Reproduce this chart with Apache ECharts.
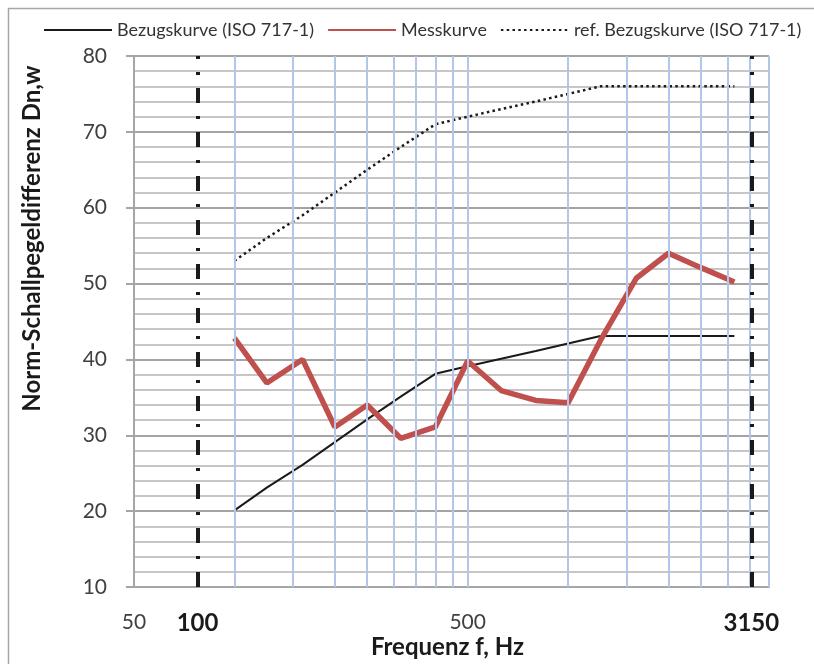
<!DOCTYPE html>
<html>
<head>
<meta charset="utf-8">
<script src="https://cdn.jsdelivr.net/npm/echarts@6/dist/echarts.min.js"></script>
<style>
  html, body { margin: 0; padding: 0; background: #fff; }
  #chart { width: 814px; height: 664px; }
</style>
</head>
<body>
<div id="chart"></div>
<script>
// Third-octave band centre frequencies, Hz
const freqs = [100, 125, 160, 200, 250, 315, 400, 500, 630, 800, 1000, 1250, 1600, 2000, 2500, 3150];
// Measured normalized level difference, dB
const messkurve = [42.8, 36.9, 40.0, 31.1, 34.0, 29.6, 31.1, 39.8, 35.9, 34.6, 34.3, 42.5, 50.7, 54.0, 52.1, 50.2];
// Shifted reference curve (ISO 717-1)
const bezugskurve = [20.1, 23.1, 26.1, 29.1, 32.1, 35.1, 38.1, 39.1, 40.1, 41.1, 42.1, 43.1, 43.1, 43.1, 43.1, 43.1];
// Unshifted reference curve (ISO 717-1) + 20 dB
const refBezugskurve = [53, 56, 59, 62, 65, 68, 71, 72, 73, 74, 75, 76, 76, 76, 76, 76];

// Frequency grid (log axis minor lines) and labelled frequencies
const xGridFreqs = [100, 150, 200, 250, 300, 350, 400, 450, 500, 1000, 1500, 2000, 2500, 3000, 3500, 4000];
const xTickLabels = [50, 500];
// Evaluation range limits and their captions
const rangeMarkers = [77.5, 3540];
const rangeLabels = ['100', '3150'];

const FONT = 'Lato, "Open Sans", sans-serif';
const pairs = vals => freqs.map((f, i) => [f, vals[i]]);

const chart = echarts.init(document.getElementById('chart'), null, { renderer: 'canvas' });

const gridLines = xGridFreqs.map(f => ({ xAxis: f }));
const tickLabelLines = xTickLabels.map(f => ({
  xAxis: f,
  lineStyle: { color: 'rgba(0,0,0,0)', width: 0 },
  label: { show: true, position: 'start', formatter: String(f), fontFamily: FONT, fontSize: 21, color: '#404040', distance: 25 }
}));
const rangeLines = rangeMarkers.map((f, i) => ({
  xAxis: f,
  label: { show: true, position: 'start', formatter: rangeLabels[i], fontFamily: FONT, fontSize: 24, fontWeight: 'bold', color: '#1a1a1a', distance: 24 }
}));

chart.setOption({
  animation: false,
  backgroundColor: '#fff',
  graphic: [{
    type: 'rect',
    shape: { x: 8.5, y: 8.5, width: 840, height: 700 },
    style: { fill: 'none', stroke: '#a6a6a6', lineWidth: 1.5 },
    silent: true
  }],
  legend: {
    data: ['Bezugskurve (ISO 717-1)', 'Messkurve', 'ref. Bezugskurve (ISO 717-1)'],
    left: 38,
    top: 16,
    itemWidth: 68,
    itemHeight: 14,
    itemGap: 13,
    itemStyle: { opacity: 0 },
    textStyle: { fontFamily: FONT, fontSize: 18, color: '#333' }
  },
  grid: { left: 134, right: 45, top: 56, bottom: 77 },
  xAxis: {
    type: 'log',
    logBase: 10,
    min: 50,
    max: 4000,
    name: 'Frequenz f, Hz',
    nameLocation: 'middle',
    nameGap: 48,
    nameTextStyle: { fontFamily: FONT, fontSize: 24, fontWeight: 'bold', color: '#1a1a1a', padding: [0, 8, 0, 0] },
    axisLine: { show: true, lineStyle: { color: '#a6a6a6', width: 2 } },
    axisTick: { show: false },
    axisLabel: { show: false },
    splitLine: { show: false },
    minorSplitLine: { show: false }
  },
  yAxis: {
    type: 'value',
    min: 10,
    max: 80,
    interval: 10,
    name: 'Norm-Schallpegeldifferenz Dn,w',
    nameLocation: 'middle',
    nameRotate: 90,
    nameGap: 90,
    nameTextStyle: { fontFamily: FONT, fontSize: 24, fontWeight: 'bold', color: '#1a1a1a', padding: [0, 0, 0, 166] },
    axisLine: { show: true, lineStyle: { color: '#a6a6a6', width: 2 } },
    axisTick: { show: true, length: 8, lineStyle: { color: '#a6a6a6', width: 2 } },
    axisLabel: { fontFamily: FONT, fontSize: 21, color: '#404040', margin: 27 },
    splitLine: { show: true, lineStyle: { color: '#a3a3a3', width: 2 } },
    minorTick: { show: false, splitNumber: 5 },
    minorSplitLine: { show: true, lineStyle: { color: '#c6c6c6', width: 2 } }
  },
  series: [
    {
      name: 'grid',
      type: 'line',
      data: [],
      z: 1,
      silent: true,
      markLine: {
        silent: true,
        symbol: ['none', 'none'],
        animation: false,
        label: { show: false },
        lineStyle: { color: '#b3c6e7', width: 2, type: 'solid' },
        emphasis: { disabled: true },
        data: gridLines.concat(tickLabelLines)
      }
    },
    {
      name: 'range',
      type: 'line',
      data: [],
      z: 4,
      silent: true,
      markLine: {
        silent: true,
        symbol: ['none', 'none'],
        animation: false,
        lineStyle: { color: '#1a1a1a', width: 4, type: [15, 13, 3, 13] },
        emphasis: { disabled: true },
        data: rangeLines
      }
    },
    {
      name: 'Bezugskurve (ISO 717-1)',
      type: 'line',
      data: pairs(bezugskurve),
      showSymbol: false,
      symbol: 'none',
      z: 3,
      lineStyle: { color: '#1a1a1a', width: 2 },
      itemStyle: { color: '#1a1a1a' }
    },
    {
      name: 'Messkurve',
      type: 'line',
      data: pairs(messkurve),
      showSymbol: false,
      symbol: 'none',
      z: 3,
      lineStyle: { color: '#c0504d', width: 5.5 },
      itemStyle: { color: '#c0504d' }
    },
    {
      name: 'ref. Bezugskurve (ISO 717-1)',
      type: 'line',
      data: pairs(refBezugskurve),
      showSymbol: false,
      symbol: 'none',
      z: 3,
      lineStyle: { color: '#1a1a1a', width: 2.5, type: [2.5, 3.3] },
      itemStyle: { color: '#1a1a1a' }
    }
  ]
});
</script>
</body>
</html>
